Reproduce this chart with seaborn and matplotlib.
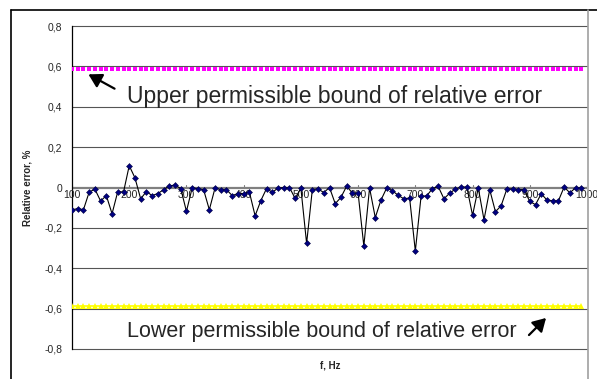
import matplotlib
matplotlib.use("Agg")
import matplotlib.pyplot as plt
import seaborn as sns
import numpy as np
import pandas as pd

# ---- data ----
freq_hz = list(range(100, 1000, 10))  # 100 ... 990 Hz
rel_error = [
    -0.110, -0.105, -0.110, -0.023, -0.008, -0.067, -0.040, -0.130, -0.020, -0.023,   # 100-190
     0.108,  0.048, -0.056, -0.020, -0.040, -0.030, -0.011,  0.008,  0.012, -0.005,   # 200-290
    -0.118, -0.002, -0.005, -0.011, -0.110, -0.002, -0.011, -0.011, -0.040, -0.030,   # 300-390
    -0.030, -0.023, -0.140, -0.065, -0.005, -0.024, -0.003,  0.000,  0.000, -0.054,   # 400-490
    -0.003, -0.277, -0.010, -0.007, -0.025,  0.000, -0.080, -0.049,  0.007, -0.028,   # 500-590
    -0.028, -0.290, -0.002, -0.149, -0.062, -0.002, -0.016, -0.039, -0.056, -0.052,   # 600-690
    -0.315, -0.044, -0.041, -0.005,  0.005, -0.056, -0.028, -0.008,  0.003,  0.002,   # 700-790
    -0.138, -0.002, -0.160, -0.011, -0.120, -0.090, -0.007, -0.007, -0.010, -0.011,   # 800-890
    -0.069, -0.085, -0.031, -0.062, -0.066, -0.066,  0.002, -0.026, -0.002, -0.002,   # 900-990
]
upper_bound = [0.587] * len(freq_hz)
lower_bound = [-0.585] * len(freq_hz)

y_ticks = [0.8, 0.6, 0.4, 0.2, 0.0, -0.2, -0.4, -0.6, -0.8]
y_tick_labels = ["0,8", "0,6", "0,4", "0,2", "0", "-0,2", "-0,4", "-0,6", "-0,8"]
x_ticks = [100, 200, 300, 400, 500, 600, 700, 800, 900, 1000]
x_tick_labels = [str(v) for v in x_ticks]

df = pd.DataFrame({"f": freq_hz, "err": rel_error, "up": upper_bound, "lo": lower_bound})

# ---- figure ----
sns.set_style("white")
plt.rcParams["font.family"] = ["Liberation Sans", "DejaVu Sans"]

fig = plt.figure(figsize=(5.97, 3.79), dpi=100)
ax = fig.add_axes([72 / 597, 1 - 349 / 379, (587 - 72) / 597, (349 - 26) / 379])

# gridlines
for yv in y_ticks:
    if yv == 0:
        continue
    ax.axhline(yv, color="#555555", lw=0.8, zorder=1, clip_on=False)
ax.axhline(0, color="#808080", lw=1.6, zorder=2)

# bounds
sns.lineplot(data=df, x="f", y="up", ax=ax, color="#FF00FF", linestyle="none",
             marker="s", markersize=3.2, markeredgewidth=0, zorder=3)
sns.lineplot(data=df, x="f", y="lo", ax=ax, color="#FFFF00", lw=1.2,
             marker="^", markersize=3.8, markeredgewidth=0, zorder=3)

# x tick labels (axis crosses at 0)
for xv, lab in zip(x_ticks, x_tick_labels):
    ax.text(xv, -0.012, lab, ha="center", va="top", fontsize=7.5, color="#222222", zorder=4)
    ax.plot([xv, xv], [0, 0.012], color="#808080", lw=0.8, zorder=2)

# data series
sns.lineplot(data=df, x="f", y="err", ax=ax, color="black", lw=0.8,
             marker="D", markersize=3.0, markerfacecolor="#000080",
             markeredgecolor="#000040", markeredgewidth=0.4, zorder=5)

ax.set_xlim(100, 1000)
ax.set_ylim(-0.8, 0.8)
ax.set_yticks(y_ticks)
ax.set_yticklabels(y_tick_labels, fontsize=7.5)
ax.set_xticks([])
ax.tick_params(axis="y", direction="out", length=4, width=0.8, color="black", pad=3)
for s in ["top", "right", "bottom"]:
    ax.spines[s].set_visible(False)
ax.spines["left"].set_color("black")
ax.spines["left"].set_linewidth(0.9)
ax.set_xlabel("")
ax.set_ylabel("")

fig.text(28 / 597, 1 - 188 / 379, "Relative error, %", rotation=90, ha="center",
         va="center", fontsize=7, fontweight="bold")
fig.text(330 / 597, 1 - 365 / 379, "f, Hz", ha="center", va="center",
         fontsize=7, fontweight="bold")

# annotations
fig.text(127 / 597, 1 - 97 / 379, "Upper permissible bound of relative error",
         ha="left", va="center", fontsize=16.5)
fig.text(127 / 597, 1 - 332 / 379, "Lower permissible bound of relative error",
         ha="left", va="center", fontsize=15.5)
fig.add_artist(matplotlib.patches.FancyArrowPatch(
    (117 / 597, 1 - 90 / 379), (86 / 597, 1 - 73 / 379),
    transform=fig.transFigure, arrowstyle="-|>,head_length=6,head_width=3.5",
    color="black", lw=1.6, mutation_scale=1.3))
fig.add_artist(matplotlib.patches.FancyArrowPatch(
    (527 / 597, 1 - 337 / 379), (548 / 597, 1 - 316 / 379),
    transform=fig.transFigure, arrowstyle="-|>,head_length=6,head_width=3.5",
    color="black", lw=1.6, mutation_scale=1.3))

# chart frame
fig.add_artist(plt.Line2D([11 / 597, 11 / 597], [0, 1 - 10 / 379], transform=fig.transFigure,
                          color="black", lw=1.2))
fig.add_artist(plt.Line2D([11 / 597, 1], [1 - 10 / 379, 1 - 10 / 379], transform=fig.transFigure,
                          color="black", lw=1.2))
fig.add_artist(plt.Line2D([588 / 597, 588 / 597], [0, 1 - 10 / 379], transform=fig.transFigure,
                          color="#A0A0A0", lw=1.2))

fig.savefig("out.png", dpi=100)
